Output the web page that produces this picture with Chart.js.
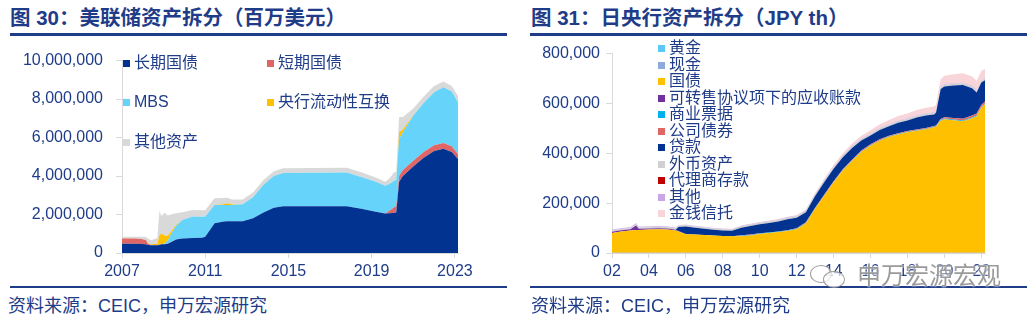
<!DOCTYPE html>
<html>
<head>
<meta charset="utf-8">
<script src="https://cdn.jsdelivr.net/npm/chart.js@4.4.1/dist/chart.umd.min.js"></script>
<style>
  body { margin: 0; width: 1036px; height: 325px; background: #fff; position: relative; overflow: hidden;
         font-family: "Liberation Sans", "Noto Sans CJK SC", sans-serif; color: #1f3c88; }
  .title { position: absolute; top: 5px; font-size: 20.5px; font-weight: bold; line-height: 26px; white-space: nowrap; }
  .rule { position: absolute; background: #1f3c88; }
  .src { position: absolute; top: 295px; font-size: 18px; line-height: 22px; white-space: nowrap; }
  .box { position: absolute; top: 38px; width: 510px; height: 247px; }
  .leg { position: absolute; font-size: 16px; line-height: 18px; white-space: nowrap; padding-left: 11px; }
  .leg span { position: absolute; left: 0; top: 6px; width: 7px; height: 7px; }
  .wm { position: absolute; left: 857px; top: 262px; font-size: 24px; line-height: 28px; color: rgba(120,120,120,0.75);
        text-shadow: 0 0 2px #fff, 0 0 2px #fff; white-space: nowrap; }
  .bub { position: absolute; border: 1.5px solid rgba(130,130,130,0.8); border-radius: 50%; background: rgba(255,255,255,0.7); }
</style>
</head>
<body>
<div class="title" style="left:10px">图 30：美联储资产拆分（百万美元）</div>
<div class="title" style="left:531px">图 31：日央行资产拆分（JPY th）</div>
<div class="rule" style="left:10px;top:33px;width:497px;height:3px"></div>
<div class="rule" style="left:530px;top:33px;width:497px;height:3px"></div>

<div class="box" style="left:0"><canvas id="fed"></canvas></div>
<div class="box" style="left:520px"><canvas id="boj"></canvas></div>
<div id="legends"></div>

<div class="rule" style="left:10px;top:286px;width:497px;height:2px"></div>
<div class="rule" style="left:530px;top:286px;width:497px;height:2px"></div>
<div class="src" style="left:8px">资料来源：CEIC，申万宏源研究</div>
<div class="src" style="left:531px">资料来源：CEIC，申万宏源研究</div>

<div class="bub" style="left:810px;top:265px;width:20px;height:16px"></div>
<div class="bub" style="left:823px;top:271px;width:20px;height:15px"></div>
<div class="wm">申万宏源宏观</div>

<script>
// ---- Fed balance sheet (million USD) ----
const fedYears = [2007.0, 2007.6, 2007.95, 2008.15, 2008.25, 2008.4, 2008.7, 2008.8, 2008.9, 2009.05,
  2009.2, 2009.35, 2009.6, 2009.9, 2010.4, 2010.85, 2011.0, 2011.45, 2011.9, 2012.05,
  2012.3, 2012.8, 2013.3, 2013.8, 2014.3, 2014.75, 2017.8, 2018.5, 2019.2, 2019.65,
  2019.85, 2020.1, 2020.18, 2020.32, 2020.5, 2021.0, 2021.5, 2022.0, 2022.45, 2022.85, 2023.15];
const fedLongTsy = [480000, 480000, 470000, 450000, 420000, 400000, 400000, 420000, 450000, 450000,
  480000, 560000, 700000, 760000, 780000, 790000, 850000, 1550000, 1640000, 1650000,
  1650000, 1650000, 1800000, 2100000, 2350000, 2430000, 2430000, 2300000, 2150000, 2050000,
  2070000, 2090000, 2100000, 3700000, 4000000, 4500000, 4950000, 5300000, 5420000, 5250000, 4880000];
const fedBills = [280000, 280000, 260000, 220000, 60000, 18000, 18000, 18000, 18000, 18000,
  18000, 18000, 18000, 0, 0, 0, 0, 0, 0, 0,
  0, 0, 0, 0, 0, 0, 0, 0, 0, 0,
  120000, 300000, 320000, 320000, 320000, 300000, 300000, 300000, 300000, 300000, 250000];
const fedMbs = [0, 0, 0, 0, 0, 0, 0, 0, 0, 30000,
  150000, 400000, 700000, 950000, 1120000, 1100000, 1050000, 950000, 850000, 840000,
  850000, 880000, 1100000, 1450000, 1650000, 1730000, 1750000, 1650000, 1550000, 1450000,
  1400000, 1380000, 1370000, 1900000, 1950000, 2350000, 2550000, 2750000, 2900000, 2850000, 2700000];
const fedSwaps = [0, 0, 0, 0, 20000, 40000, 60000, 500000, 550000, 400000,
  250000, 120000, 50000, 10000, 0, 0, 0, 0, 40000, 100000,
  20000, 0, 0, 0, 0, 0, 0, 0, 0, 0,
  0, 0, 0, 350000, 150000, 10000, 0, 0, 0, 0, 0];
const fedOther = [80000, 90000, 110000, 170000, 250000, 200000, 300000, 1250000, 900000, 1200000,
  1050000, 900000, 600000, 400000, 330000, 330000, 320000, 350000, 330000, 280000,
  260000, 250000, 240000, 240000, 250000, 250000, 250000, 250000, 220000, 200000,
  280000, 450000, 400000, 800000, 650000, 350000, 330000, 330000, 300000, 280000, 330000];
const fedNames = ['长期国债', '短期国债', 'MBS', '央行流动性互换', '其他资产'];
const fedTicks = [2007, 2011, 2015, 2019, 2023];
const fedYTicks = [0, 2000000, 4000000, 6000000, 8000000, 10000000];

// ---- BOJ balance sheet ----
const bojYears = [2002.0, 2002.5, 2003.0, 2003.3, 2003.45, 2004.0, 2004.5, 2005.0, 2005.45, 2005.6,
  2006.0, 2006.5, 2007.0, 2007.5, 2008.0, 2008.5, 2009.0, 2009.5, 2010.0, 2010.5,
  2011.0, 2011.5, 2012.0, 2012.5, 2013.0, 2013.5, 2014.0, 2014.5, 2015.0, 2015.5,
  2016.0, 2016.5, 2017.0, 2017.5, 2018.0, 2018.5, 2019.0, 2019.45, 2019.55, 2019.8,
  2020.0, 2020.5, 2021.0, 2021.5, 2021.75, 2022.0, 2022.2];
const bojGold = [441, 441, 441, 441, 441, 441, 441, 441, 441, 441, 441, 441, 441, 441, 441, 441,
  441, 441, 441, 441, 441, 441, 441, 441, 441, 441, 441, 441, 441, 441, 441, 441,
  441, 441, 441, 441, 441, 441, 441, 441, 441, 441, 441, 441, 441, 441, 441];
const bojCash = [250, 260, 240, 250, 250, 260, 250, 240, 230, 250, 260, 250, 240, 250, 260, 270,
  260, 250, 240, 250, 270, 260, 250, 240, 230, 250, 260, 270, 280, 270, 260, 250,
  240, 230, 220, 230, 240, 250, 250, 260, 270, 280, 260, 250, 240, 230, 230];
const bojJgb = [80000, 86000, 90000, 92000, 92000, 94000, 95000, 94000, 90000, 86000,
  75000, 74000, 72000, 70000, 68000, 66000, 66000, 70000, 76000, 80000,
  84000, 88000, 95000, 118000, 176000, 230000, 282000, 330000, 368000, 405000,
  430000, 450000, 465000, 475000, 484000, 490000, 496000, 504000, 506000, 530000,
  536000, 532000, 528000, 540000, 548000, 582000, 596000];
const bojRepo = [5000, 5000, 5000, 18000, 5000, 4000, 4000, 4000, 3000, 2000,
  1000, 0, 0, 0, 0, 0, 0, 0, 0, 0, 0, 0, 0, 0, 0, 0, 0, 0, 0, 0,
  0, 0, 0, 0, 0, 0, 0, 0, 0, 0, 0, 0, 0, 0, 0, 0, 0];
const bojCp = [0, 0, 0, 0, 0, 0, 0, 0, 0, 0, 0, 0, 0, 0, 0, 0,
  3000, 2000, 1500, 1500, 1500, 2000, 2000, 2000, 1500, 1500, 2000, 2000, 2000, 2000, 2000, 2000,
  2000, 2000, 2000, 2000, 2000, 2000, 2000, 3000, 3000, 3000, 3000, 3000, 3000, 3000, 3000];
const bojCorp = [0, 0, 0, 0, 0, 0, 0, 0, 0, 0, 0, 0, 0, 0, 0, 0,
  1500, 1500, 1000, 500, 500, 1000, 2000, 2500, 3000, 3000, 3000, 3000, 3000, 3200, 3200, 3200,
  3200, 3200, 3200, 3200, 3200, 3200, 3200, 4000, 4500, 6000, 7000, 7500, 7500, 8000, 8000];
const bojLoans = [0, 0, 0, 0, 0, 0, 0, 0, 0, 16000,
  30000, 27000, 25000, 23000, 22000, 23000, 30000, 34000, 36000, 38000,
  40000, 44000, 42000, 40000, 48000, 50000, 50000, 48000, 48000, 40000,
  36000, 38000, 38000, 42000, 42000, 48000, 50000, 46000, 52000, 120000,
  124000, 130000, 135000, 110000, 85000, 90000, 85000];
const bojForeign = [4500, 4500, 4500, 4500, 4500, 4500, 4500, 4500, 4500, 4500, 4500, 4500, 4500, 4500, 4500, 4500,
  6000, 6000, 6000, 6000, 6000, 6000, 6000, 6000, 6000, 6000, 6000, 6000, 6500, 6500, 6500, 6500,
  6500, 6500, 6500, 6500, 6500, 6500, 6500, 7000, 7000, 7000, 7000, 7000, 7000, 7000, 7000];
const bojAgency = [0, 0, 0, 0, 0, 0, 0, 0, 0, 0, 0, 0, 0, 0, 0, 0,
  0, 0, 0, 0, 0, 0, 0, 0, 0, 0, 0, 0, 0, 0, 0, 0,
  0, 0, 0, 0, 0, 0, 0, 0, 0, 0, 0, 0, 0, 0, 0];
const bojOther = [3000, 3000, 3000, 4000, 3000, 3000, 3000, 3000, 3000, 2000, 2000, 2000, 2000, 2000, 2000, 2000,
  2000, 2000, 2000, 2000, 2000, 2000, 2000, 2000, 2000, 2000, 2000, 2000, 2000, 2000, 2000, 2000,
  2000, 2000, 2000, 2000, 2000, 2000, 2000, 2500, 2500, 2500, 2500, 2500, 2500, 2500, 2500];
const bojTrust = [1000, 1000, 1000, 1000, 1000, 1000, 1000, 1000, 1000, 1000, 1000, 1000, 1000, 1000, 1200, 1200,
  1300, 1300, 1400, 1500, 1500, 2000, 2500, 3000, 4000, 5500, 7000, 8000, 9500, 11000, 12500, 14000,
  16000, 18000, 19500, 21000, 22000, 23000, 23500, 30000, 33000, 36000, 37500, 37500, 37500, 37500, 37500];
const bojNames = ['黄金', '现金', '国债', '可转售协议项下的应收账款', '商业票据', '公司债券', '贷款',
  '外币资产', '代理商存款', '其他', '金钱信托'];
const bojTicks = [2002, 2004, 2006, 2008, 2010, 2012, 2014, 2016, 2018, 2020, 2022];
const bojYTicks = [0, 200000, 400000, 600000, 800000];

const fedColors = ['#023391', '#e06666', '#66d3fa', '#ffc000', '#d9d9d9'];
const bojColors = ['#5bc8f5', '#8ea9db', '#ffc000', '#7030a0', '#00b0f0', '#e06666', '#023391',
  '#d0d0d0', '#c00000', '#c9a7e6', '#f8d5d8'];

const textColor = '#1f3c88';
const tickFont = { family: '"Liberation Sans", Arial, sans-serif', size: 16 };

function layers(names, colors, series, xs) {
  return names.map((name, i) => ({
    label: name,
    data: series[i].map((v, k) => ({ x: xs[k], y: v })),
    backgroundColor: colors[i],
    borderWidth: 0,
    pointRadius: 0,
    tension: 0,
    fill: i === 0 ? 'origin' : '-1'
  }));
}

function makeChart(id, datasets, o) {
  return new Chart(document.getElementById(id), {
    type: 'line',
    data: { datasets },
    options: {
      responsive: true,
      maintainAspectRatio: false,
      animation: false,
      layout: { padding: { top: 9, right: o.padRight, left: 0, bottom: 0 } },
      plugins: { legend: { display: false }, tooltip: { enabled: false } },
      scales: {
        x: {
          type: 'linear', min: o.xmin, max: o.xmax,
          grid: { drawOnChartArea: false, color: '#d9d9d9', tickLength: 5 },
          border: { color: '#d9d9d9' },
          ticks: { font: tickFont, color: textColor, padding: 4, maxRotation: 0, callback: o.xfmt },
          afterBuildTicks: a => { a.ticks = o.xticks.map(v => ({ value: v })); },
          afterFit: a => { a.height = 32; }
        },
        y: {
          stacked: true, min: 0, max: o.ymax,
          grid: { drawOnChartArea: false, color: '#d9d9d9', tickLength: 6 },
          border: { color: '#d9d9d9' },
          ticks: { font: tickFont, color: textColor, padding: o.yPad, callback: v => v.toLocaleString('en-US') },
          afterBuildTicks: a => { a.ticks = o.yticks.map(v => ({ value: v })); },
          afterFit: a => { a.width = o.yWidth; }
        }
      }
    }
  });
}

makeChart('fed', layers(fedNames, fedColors, [fedLongTsy, fedBills, fedMbs, fedSwaps, fedOther], fedYears), {
  xmin: 2007, xmax: 2023.15, xticks: fedTicks, xfmt: v => String(v),
  ymax: 10000000, yticks: fedYTicks, yWidth: 122, yPad: 13, padRight: 52
});

makeChart('boj', layers(bojNames, bojColors,
  [bojGold, bojCash, bojJgb, bojRepo, bojCp, bojCorp, bojLoans, bojForeign, bojAgency, bojOther, bojTrust], bojYears), {
  xmin: 2002, xmax: 2022.2, xticks: bojTicks, xfmt: v => String(v).slice(2),
  ymax: 800000, yticks: bojYTicks, yWidth: 92, yPad: 6, padRight: 45
});

// legends
const fedLegendPos = [[123, 54], [267, 54], [123, 93], [267, 93], [123, 133]];
const legendBox = document.getElementById('legends');
function addLegend(names, colors, posOf) {
  names.forEach((name, i) => {
    const [x, y] = posOf(i);
    const d = document.createElement('div');
    d.className = 'leg';
    d.style.left = x + 'px';
    d.style.top = y + 'px';
    d.innerHTML = '<span style="background:' + colors[i] + '"></span>' + name;
    legendBox.appendChild(d);
  });
}
addLegend(fedNames, fedColors, i => fedLegendPos[i]);
addLegend(bojNames, bojColors, i => [658, 39 + i * 16.5]);
</script>
</body>
</html>
